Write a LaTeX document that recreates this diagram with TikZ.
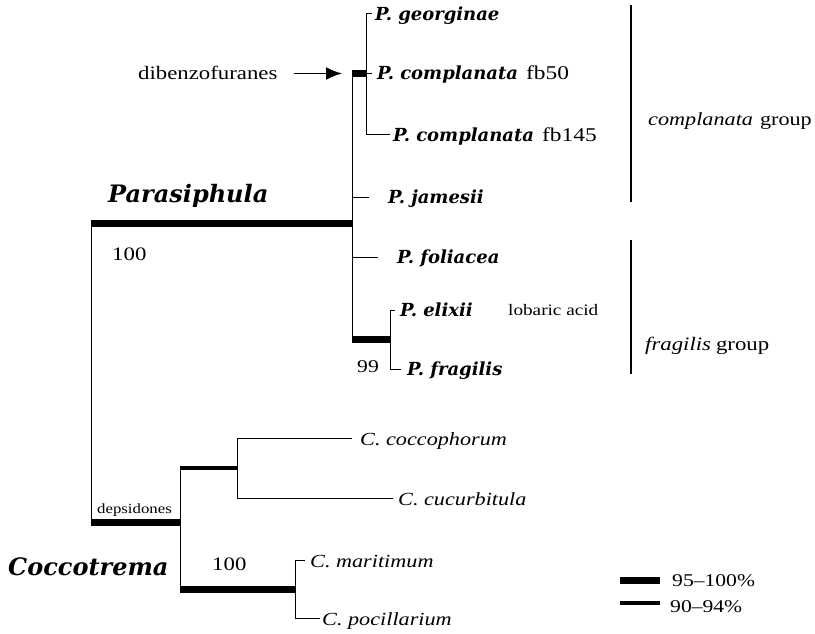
\documentclass[tikz,border=0pt]{standalone}
\usepackage{fontspec}
\setmainfont{Liberation Serif}[FakeStretch=1.2]
\newfontfamily\taxfont{DejaVu Serif}
\usetikzlibrary{arrows.meta}
\newcommand{\strain}[1]{{\rmfamily\mdseries\upshape\fontsize{19.5}{22}\selectfont #1}}

\begin{document}
\begin{tikzpicture}[x=1pt,y=-1pt,
		branch/.style={line width=1pt},
		heavy_branch/.style={line width=7pt},
		mid_branch/.style={line width=4pt},
		group_bar/.style={line width=2.5pt},
		p_taxon/.style={anchor=west,inner ysep=0pt,inner xsep=3pt,text height=13pt,text depth=0pt,font={\taxfont\bfseries\itshape\fontsize{18}{20}\selectfont}},
		c_taxon/.style={anchor=west,inner ysep=0pt,inner xsep=3pt,text height=14pt,text depth=0pt,font={\itshape\fontsize{18.5}{20}\selectfont}},
		genus/.style={anchor=base west,inner sep=0pt,font={\taxfont\bfseries\itshape\fontsize{24}{28}\selectfont}},
		plain/.style={anchor=base west,inner sep=0pt,font={\fontsize{19}{22}\selectfont}}]
	
	\useasboundingbox (0,0) rectangle (815,634);
	
	\coordinate (r1) at (91,223.5);
	\coordinate (r2) at (91,522);
	\coordinate (p1) at (352,223.5);
	\coordinate (p2) at (352,73.5);
	\coordinate (p3) at (352,339);
	\coordinate (c1) at (366,73.5);
	\coordinate (e1) at (390,339);
	\coordinate (k1) at (180,522);
	\coordinate (k2) at (180,468);
	\coordinate (k3) at (180,589);
	\coordinate (k4) at (237,468);
	\coordinate (k5) at (295,589);
	
	\node[p_taxon] (1) at (372,14) {P. georginae};
	\node[p_taxon, inner xsep=5pt] (2) at (372,73.5) {P. complanata\hspace{8pt}\strain{fb50}};
	\node[p_taxon] (3) at (390,135) {P. complanata\hspace{8pt}\strain{fb145}};
	\node[p_taxon, inner xsep=19pt] (4) at (369,197) {P. jamesii};
	\node[p_taxon, inner xsep=19pt] (5) at (378,257) {P. foliacea};
	\node[p_taxon, inner xsep=5pt] (6) at (395,310) {P. elixii};
	\node[p_taxon, inner xsep=6pt] (7) at (401,369) {P. fragilis};
	\node[c_taxon, inner xsep=8pt] (8) at (352,438) {C. coccophorum};
	\node[c_taxon, inner xsep=5pt] (9) at (393,498) {C. cucurbitula};
	\node[c_taxon, inner xsep=5pt] (10) at (305,560) {C. maritimum};
	\node[c_taxon, inner xsep=2pt] (11) at (320,618) {C. pocillarium};
	
	\node[genus] (para) at (108,202) {Parasiphula};
	\node[genus] (cocc) at (8,575) {Coccotrema};
	\node[plain] (s1) at (112,260) {100};
	\node[plain, font={\fontsize{18}{20}\selectfont}] (s2) at (357,372) {99};
	\node[plain] (s3) at (212,570) {100};
	\node[plain] (dib) at (138,80) {dibenzofuranes};
	\node[plain, font={\fontsize{16}{18}\selectfont}] (lob) at (508,315) {lobaric acid};
	\node[plain, font={\fontsize{14}{16}\selectfont}] (dep) at (97,513) {depsidones};
	\node[plain, font={\fontsize{18.5}{21}\selectfont}] (g1) at (648,125) {\textit{complanata}\hspace{7pt}group};
	\node[plain] (g2) at (645,350) {\textit{fragilis}\hspace{5pt}group};
	\node[plain, font={\fontsize{18}{20}\selectfont}] (l1) at (672,586) {95--100\%};
	\node[plain, font={\fontsize{18}{20}\selectfont}] (l2) at (670,612) {90--94\%};
	
	\draw[heavy_branch] (r1) -- (p1);
	\draw[heavy_branch] (r2) -- (k1);
	\draw[branch] (r1) -- (r2);
	\draw[branch] (p2) -- (p3);
	\draw[heavy_branch] (p2) -- (c1);
	\draw[branch] (c1) |- (1);
	\draw[branch] (c1) -- (2);
	\draw[branch] (c1) |- (3);
	\draw[branch] (p1) |- (4);
	\draw[branch] (p1) |- (5);
	\draw[heavy_branch] (p3) -- (e1);
	\draw[branch] (e1) |- (6);
	\draw[branch] (e1) |- (7);
	
	\draw[branch] (k2) -- (k3);
	\draw[mid_branch] (k2) -- (k4);
	\draw[heavy_branch] (k3) -- (k5);
	\draw[branch] (k4) |- (8);
	\draw[branch] (k4) |- (9);
	\draw[branch] (k5) |- (10);
	\draw[branch] (k5) |- (11);
	
	\draw[-{Latex[length=16pt,width=13pt]}, line width=1.5pt, shorten <=16pt, shorten >=10pt] (dib.east |- p2) -- (p2);
	
	\draw[group_bar] (631,5) -- (631,202);
	\draw[group_bar] (631,240) -- (631,374);
	\draw[heavy_branch] (620,580.5) -- (660,580.5);
	\draw[mid_branch] (620,603) -- (660,603);
\end{tikzpicture}
\end{document}
